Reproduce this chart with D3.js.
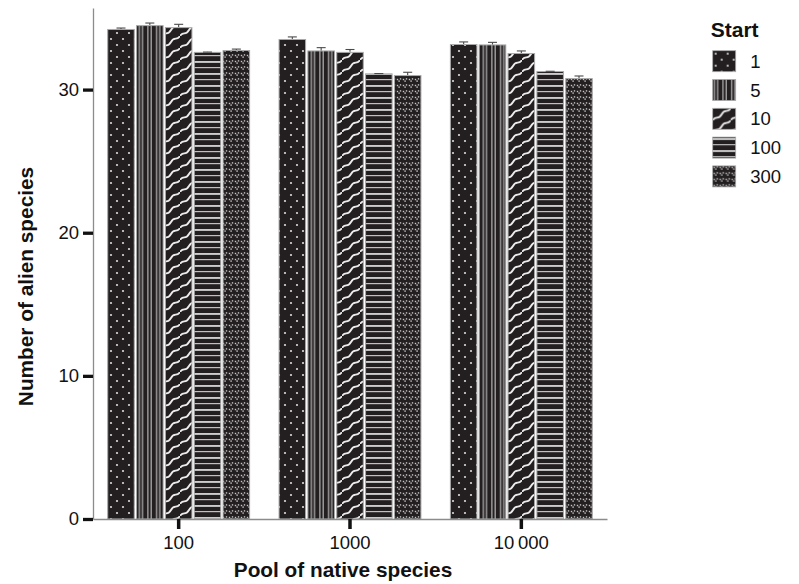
<!DOCTYPE html>
<html>
<head>
<meta charset="utf-8">
<script src="https://cdn.jsdelivr.net/npm/d3@7"></script>
<style>
  html, body { margin: 0; padding: 0; background: #fff; }
  svg { display: block; font-family: "Liberation Sans", Arial, Helvetica, sans-serif; }
</style>
</head>
<body>
<svg id="chart" width="799" height="584"></svg>
<script>
// Pool sizes of native species (x groups) and starting numbers (series)
const pools = ["100", "1000", "10\u2009000"];
const starts = ["1", "5", "10", "100", "300"];

// Mean number of alien species per start value, one array per pool
const meanPool100   = [34.20, 34.47, 34.33, 32.60, 32.73];
const meanPool1000  = [33.50, 32.70, 32.60, 31.10, 30.98];
const meanPool10000 = [33.15, 33.12, 32.52, 31.26, 30.77];

// Standard errors
const sePool100   = [0.10, 0.18, 0.23, 0.02, 0.10];
const sePool1000  = [0.18, 0.23, 0.20, 0.02, 0.23];
const sePool10000 = [0.18, 0.18, 0.18, 0.02, 0.18];

const yTicks = [0, 10, 20, 30];

const means = [meanPool100, meanPool1000, meanPool10000];
const errors = [sePool100, sePool1000, sePool10000];
const rows = [];
pools.forEach((p, i) => starts.forEach((s, j) => {
  rows.push({ pool: p, start: s, mean: means[i][j], se: errors[i][j] });
}));

const svg = d3.select("#chart");
const dark = "#231f20";

// ---------- fill patterns ----------
const defs = svg.append("defs");
function pattern(id, w, h) {
  const p = defs.append("pattern").attr("id", id)
    .attr("patternUnits", "userSpaceOnUse").attr("width", w).attr("height", h);
  p.append("rect").attr("width", w).attr("height", h).attr("fill", dark);
  return p;
}
// 1: staggered dots
{
  const p = pattern("pat-1", 12, 12);
  [[3, 3], [9, 9]].forEach(([cx, cy]) =>
    p.append("circle").attr("cx", cx).attr("cy", cy).attr("r", 1.1).attr("fill", "#dcdcdc"));
}
// 5: paired vertical lines
{
  const p = pattern("pat-5", 8.6, 10);
  [1.2, 4.4].forEach(x => p.append("rect").attr("x", x).attr("y", 0)
    .attr("width", 1.1).attr("height", 10).attr("fill", "#c4c4c4"));
}
// 10: rising wavy diagonals
{
  const w = 18, h = 12;
  const p = pattern("pat-10", w, h);
  const d = "M0,12 C3,7 6,12 9,6 C12,0 15,5 18,0";
  [[0, 0], [w, -h], [-w, h]].forEach(([dx, dy]) =>
    p.append("path").attr("d", d).attr("transform", `translate(${dx},${dy})`)
      .attr("fill", "none").attr("stroke", "#ececec").attr("stroke-width", 1.8));
}
// 100: horizontal lines, alternating weight
{
  const p = pattern("pat-100", 10, 12);
  p.append("rect").attr("x", 0).attr("y", 1).attr("width", 10).attr("height", 1.9).attr("fill", "#cccccc");
  p.append("rect").attr("x", 0).attr("y", 7).attr("width", 10).attr("height", 1.2).attr("fill", "#c0c0c0");
}
// 300: fine diagonal dot pairs
{
  const p = pattern("pat-300", 6, 6);
  [[0.8, 0.8], [2.4, 2.4], [3.8, 0.2]].forEach(([x, yy]) =>
    p.append("rect").attr("x", x).attr("y", yy).attr("width", 1.4).attr("height", 1.4).attr("fill", "#c6c6c6"));
}
const fillFor = s => `url(#pat-${s})`;

// ---------- scales ----------
const x0 = d3.scaleBand().domain(pools).range([93, 607]);
const groupHalf = 73.25;
const x1 = d3.scaleBand().domain(starts).range([-groupHalf, groupHalf]).padding(0.08);
const y = d3.scaleLinear().domain([0, 35.7]).range([519, 8]);

// ---------- bars ----------
const barX = d => x0(d.pool) + x0.bandwidth() / 2 + x1(d.start);
svg.append("g").selectAll("rect").data(rows).join("rect")
  .attr("x", barX)
  .attr("y", d => y(d.mean))
  .attr("width", x1.bandwidth())
  .attr("height", d => y(0) - y(d.mean))
  .attr("fill", d => fillFor(d.start))
  .attr("stroke", "#a9a9a9")
  .attr("stroke-width", 1);

// ---------- error bars (upper whisker) ----------
const eb = svg.append("g").attr("stroke", "#4a4a4a").attr("stroke-width", 1.1);
rows.forEach(d => {
  const cx = barX(d) + x1.bandwidth() / 2;
  eb.append("line").attr("x1", cx).attr("x2", cx).attr("y1", y(d.mean) - 0.5).attr("y2", y(d.mean + d.se));
  eb.append("line").attr("x1", cx - 4.5).attr("x2", cx + 4.5).attr("y1", y(d.mean + d.se)).attr("y2", y(d.mean + d.se));
});

// ---------- axes ----------
const yAxis = svg.append("g").attr("transform", "translate(93,0)")
  .call(d3.axisLeft(y).tickValues(yTicks).tickFormat(d3.format("d")).tickSize(10).tickSizeOuter(0).tickPadding(4));
yAxis.select(".domain").attr("stroke", "#8c8c8c").attr("stroke-width", 1.3);
yAxis.selectAll(".tick line").attr("stroke", "#111").attr("stroke-width", 3.3);
yAxis.selectAll(".tick text").attr("font-size", 18.5).attr("fill", "#111")
  .attr("font-family", "Liberation Sans, Arial, sans-serif");

const xAxis = svg.append("g").attr("transform", "translate(0,519)")
  .call(d3.axisBottom(x0).tickSize(10).tickSizeOuter(0).tickPadding(7));
xAxis.select(".domain").attr("stroke", "#8c8c8c").attr("stroke-width", 1.5);
xAxis.selectAll(".tick line").attr("stroke", "#111").attr("stroke-width", 3.5);
xAxis.selectAll(".tick text").attr("font-size", 18.5).attr("fill", "#111")
  .attr("font-family", "Liberation Sans, Arial, sans-serif");

// ---------- axis titles ----------
svg.append("text").attr("x", 343).attr("y", 577).attr("text-anchor", "middle")
  .attr("font-size", 20.8).attr("font-weight", "bold").attr("fill", "#111")
  .text("Pool of native species");
svg.append("text").attr("transform", "translate(33,286.5) rotate(-90)").attr("text-anchor", "middle")
  .attr("font-size", 20.8).attr("font-weight", "bold").attr("fill", "#111")
  .text("Number of alien species");

// ---------- legend ----------
const legend = svg.append("g").attr("transform", "translate(712.7,0)");
legend.append("text").attr("x", -2).attr("y", 36.7).attr("font-size", 21)
  .attr("font-weight", "bold").attr("fill", "#111").text("Start");
const item = legend.selectAll("g.item").data(starts).join("g").attr("class", "item")
  .attr("transform", (d, i) => `translate(0,${50.7 + i * 28.8})`);
item.append("rect").attr("width", 23).attr("height", 21)
  .attr("fill", d => fillFor(d)).attr("stroke", "#a9a9a9").attr("stroke-width", 0.8);
item.append("text").attr("x", 37.5).attr("y", 10.5).attr("dy", "0.36em")
  .attr("font-size", 18.5).attr("fill", "#111").text(d => d);
</script>
</body>
</html>
